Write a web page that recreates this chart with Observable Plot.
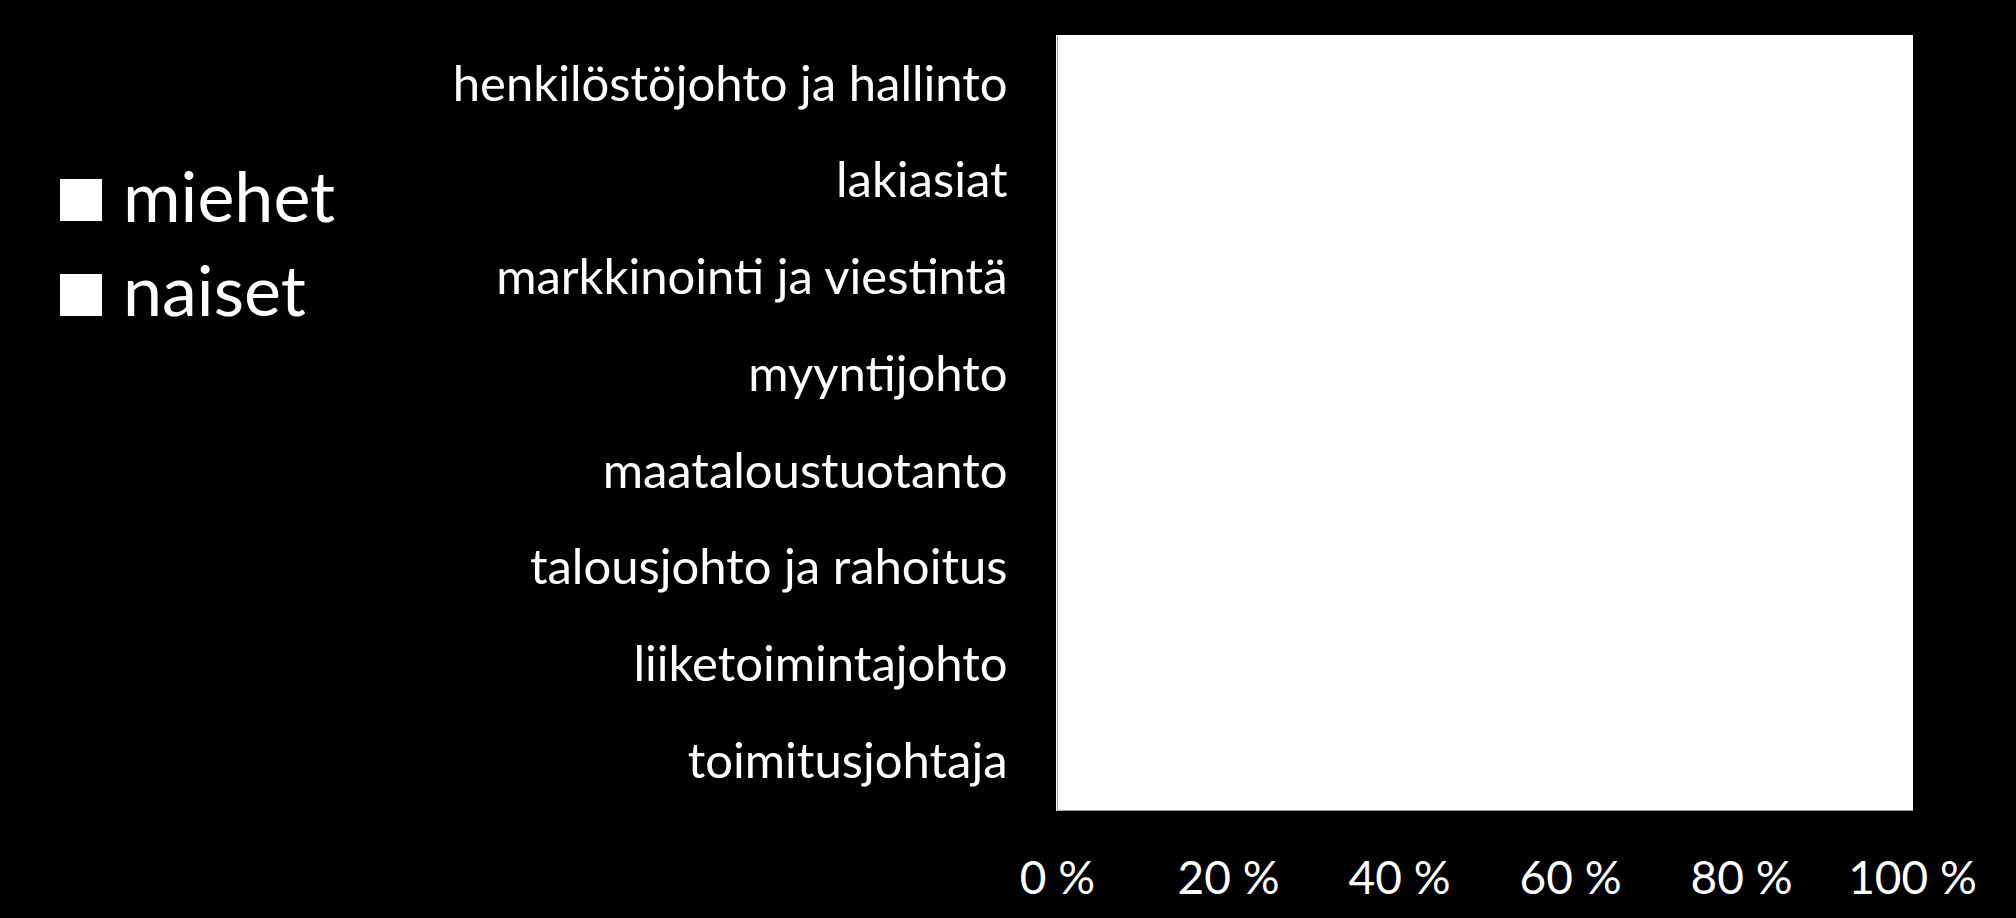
<!DOCTYPE html>
<html>
<head>
<meta charset="utf-8">
<script src="https://cdn.jsdelivr.net/npm/d3@7"></script>
<script src="https://cdn.jsdelivr.net/npm/@observablehq/plot@0.6"></script>
<style>
  html, body { margin: 0; padding: 0; background: #000; }
  #wrap { position: relative; width: 2016px; height: 918px; background: #000; overflow: hidden; }
  #chart { position: absolute; left: 0; top: 0; }
  .lg-sq { position: absolute; width: 42px; height: 42px; background: #fff; }
  .lg-tx { position: absolute; font-family: Lato, "Open Sans", sans-serif; font-size: 70px; line-height: 1; color: #fff; white-space: nowrap; }
</style>
</head>
<body>
<div id="wrap">
  <div id="chart"></div>
  <div id="legend"></div>
</div>
<script>
// Categories, top to bottom
const categories = [
  "henkilöstöjohto ja hallinto",
  "lakiasiat",
  "markkinointi ja viestintä",
  "myyntijohto",
  "maataloustuotanto",
  "talousjohto ja rahoitus",
  "liiketoimintajohto",
  "toimitusjohtaja"
];
// Series shares (both series are drawn in white in the original, so the split is estimated)
const miehet = [0.34, 0.52, 0.53, 0.80, 0.82, 0.60, 0.85, 0.94];
const naiset = [0.66, 0.48, 0.47, 0.20, 0.18, 0.40, 0.15, 0.06];
const seriesNames = ["miehet", "naiset"];
const seriesColors = ["#ffffff", "#ffffff"];
const xTicks = [0, 0.2, 0.4, 0.6, 0.8, 1.0];
const xTickLabels = ["0 %", "20 %", "40 %", "60 %", "80 %", "100 %"];

const rows = [];
categories.forEach((c, i) => {
  rows.push({category: c, series: "miehet", value: miehet[i]});
  rows.push({category: c, series: "naiset", value: naiset[i]});
});

const fmt = d => xTickLabels[xTicks.indexOf(d)] ?? "";

const plot = Plot.plot({
  width: 2016,
  height: 918,
  marginLeft: 1057,
  marginRight: 104,
  marginTop: 36,
  marginBottom: 108,
  style: {background: "#000", color: "#fff", fontFamily: "Lato, 'Open Sans', sans-serif"},
  x: {domain: [0, 1], ticks: xTicks, tickFormat: fmt, label: null},
  y: {domain: categories, padding: 0, round: false, label: null},
  color: {domain: seriesNames, range: seriesColors},
  marks: [
    Plot.barX(rows, Plot.stackX({x: "value", y: "category", fill: "series", stroke: "series", strokeWidth: 1.5, shapeRendering: "crispEdges", order: seriesNames})),
    Plot.ruleX([0], {stroke: "#9a9a9a", strokeWidth: 1}),
    Plot.frame({anchor: "bottom", stroke: "#9a9a9a", strokeWidth: 1}),
    Plot.axisX({ticks: xTicks, tickFormat: fmt, tickSize: 0, tickPadding: 51, fontSize: 46, fill: "#fff", label: null}),
    Plot.axisY({tickSize: 0, tickPadding: 50, fontSize: 49, fill: "#fff", label: null})
  ]
});
document.getElementById("chart").appendChild(plot);

// Legend
const legend = document.getElementById("legend");
const lgTops = [179, 274];
const lgTextTops = [160, 254];
seriesNames.forEach((s, i) => {
  const sq = document.createElement("div");
  sq.className = "lg-sq";
  sq.style.left = "60px";
  sq.style.top = lgTops[i] + "px";
  sq.style.background = seriesColors[i];
  legend.appendChild(sq);
  const tx = document.createElement("div");
  tx.className = "lg-tx";
  tx.style.left = "123px";
  tx.style.top = lgTextTops[i] + "px";
  tx.textContent = s;
  legend.appendChild(tx);
});
</script>
</body>
</html>
